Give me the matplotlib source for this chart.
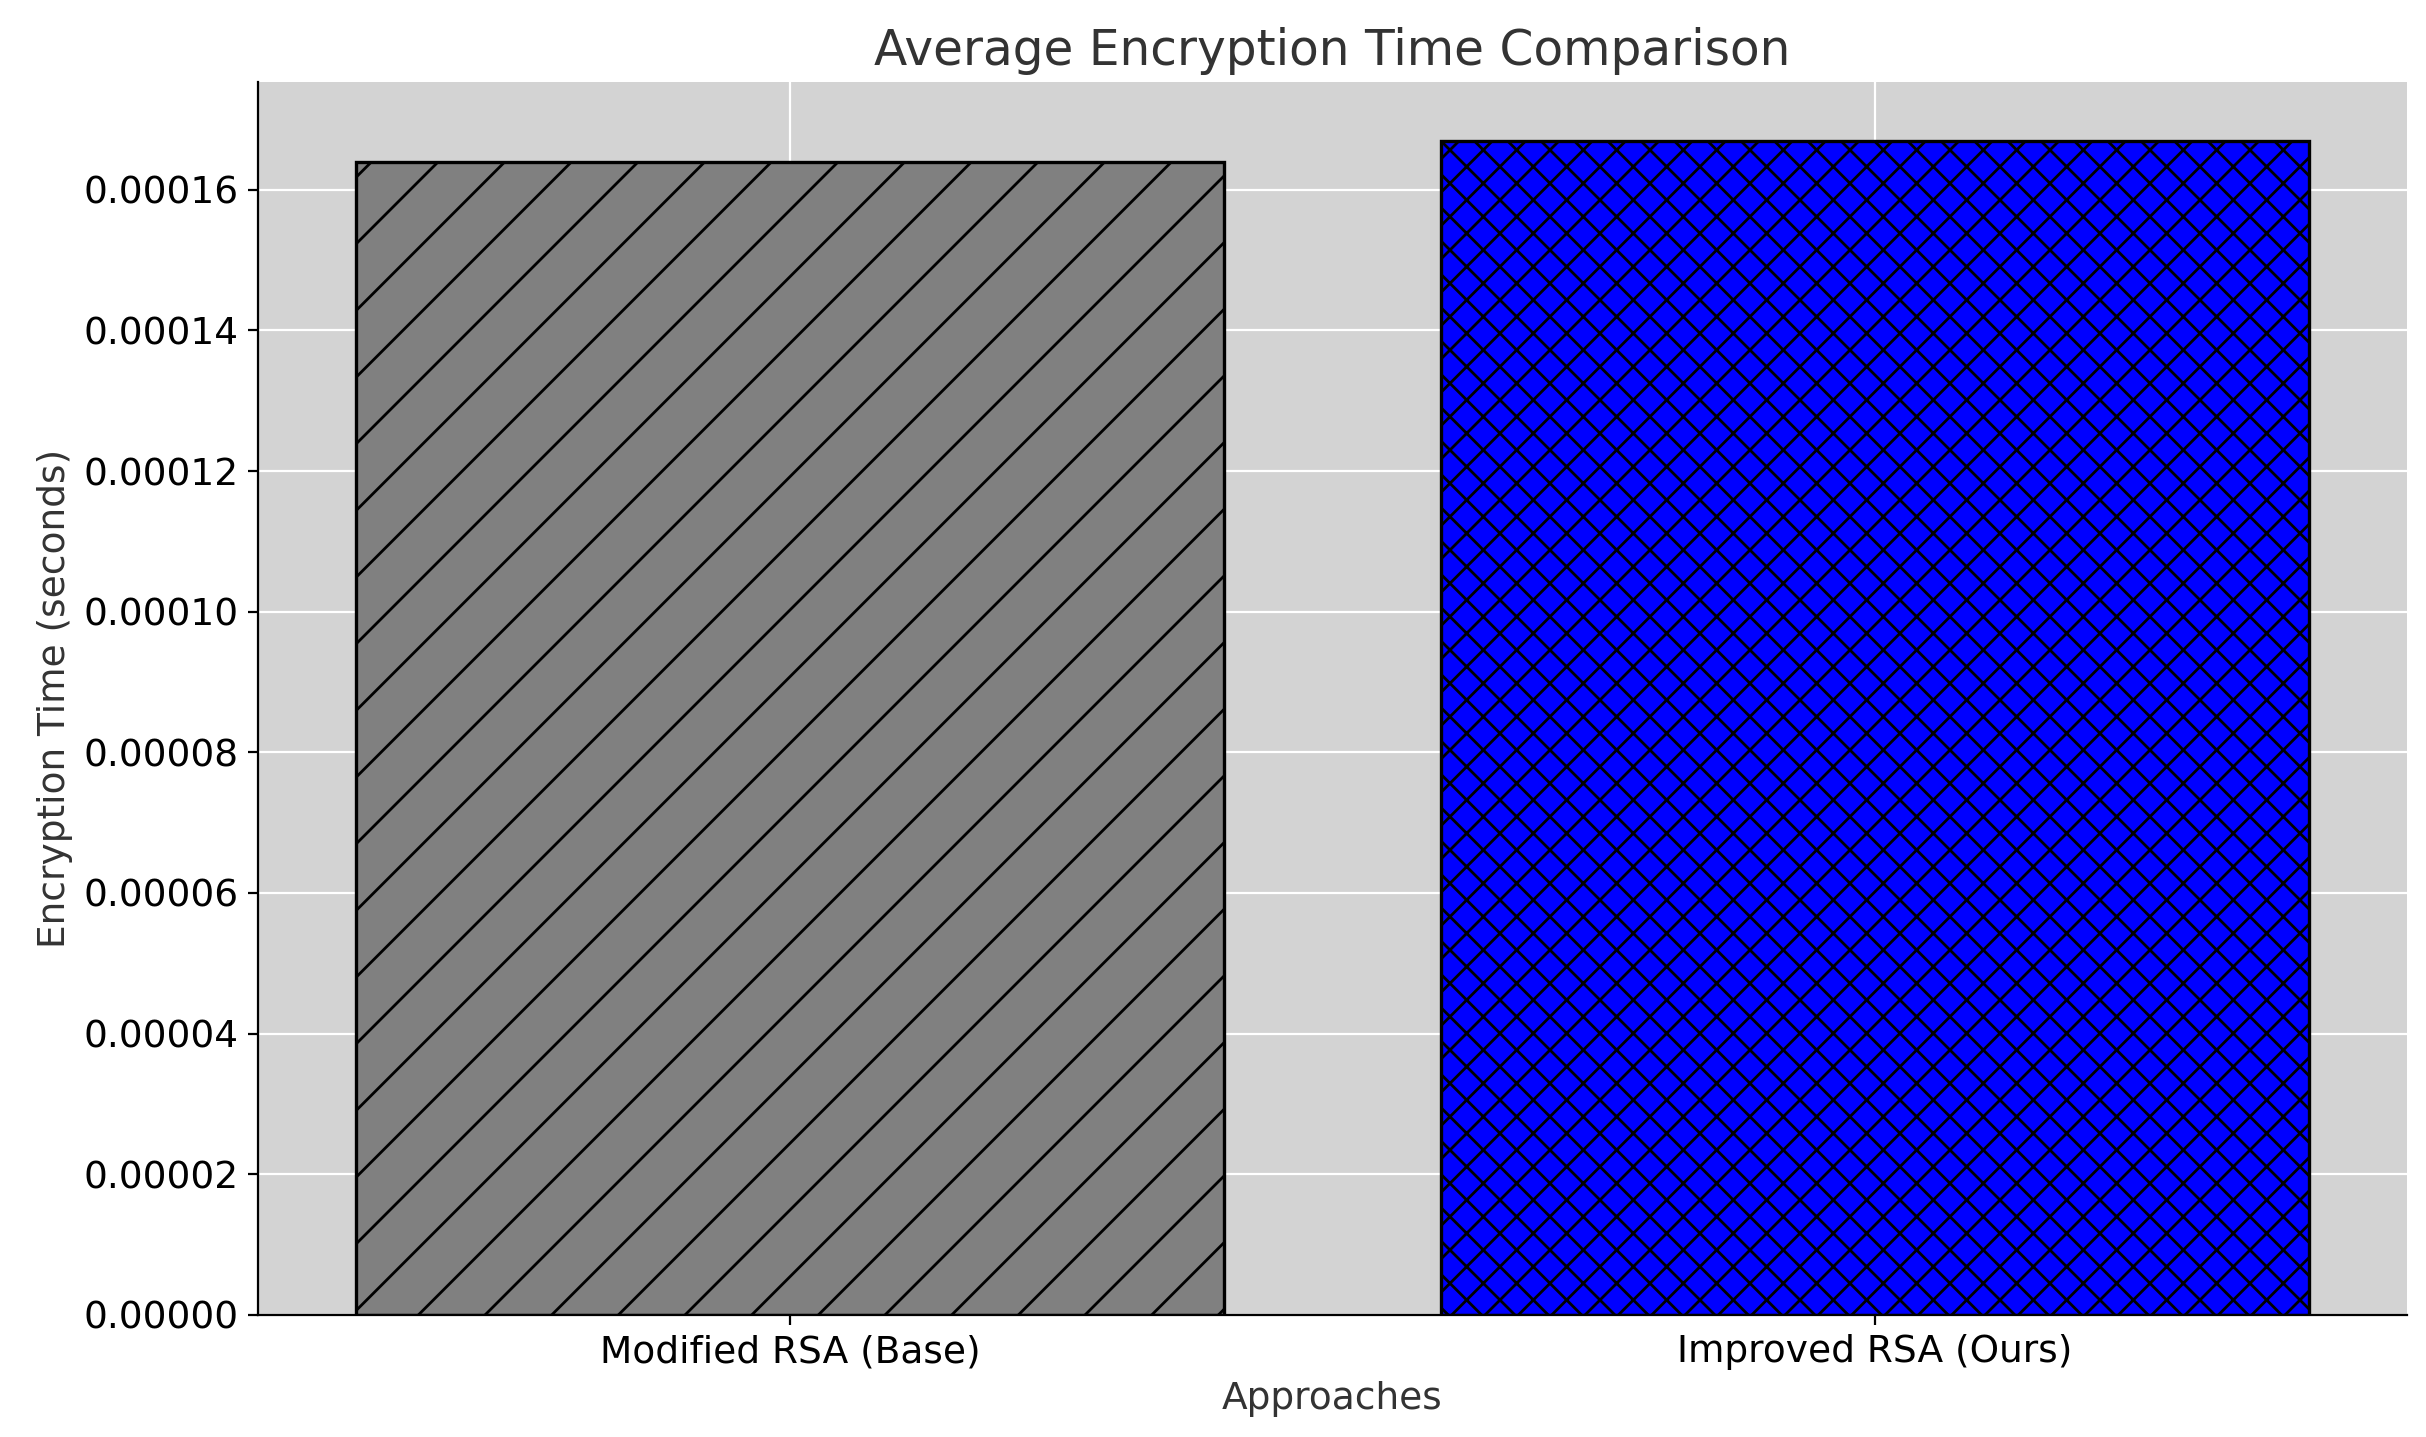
import matplotlib.pyplot as plt

approaches = ['Modified RSA (Base)', 'Improved RSA (Ours)']
times = [0.000164, 0.000167]
colors = ['gray', 'blue']
hatches = ['/', 'xx']

fig = plt.figure(figsize=(12.13, 7.185), dpi=200)
ax = fig.add_axes([0.1065, 0.085, 0.8855, 0.858])
ax.set_facecolor('lightgray')
ax.grid(True, color='white', linewidth=0.8)
ax.set_axisbelow(True)
bars = ax.bar(approaches, times, color=colors, edgecolor='black', linewidth=1.2)
for b, h in zip(bars, hatches):
    b.set_hatch(h)
for s in ['top', 'right']:
    ax.spines[s].set_visible(False)
ax.set_title('Average Encryption Time Comparison', fontsize=17.5, color='#333333')
ax.set_xlabel('Approaches', fontsize=13.5, color='#333333')
ax.set_ylabel('Encryption Time (seconds)', fontsize=13.5, color='#333333')
ax.tick_params(labelsize=13.5)
ax.yaxis.set_major_formatter(plt.FormatStrFormatter('%.5f'))
fig.savefig('out.png')
